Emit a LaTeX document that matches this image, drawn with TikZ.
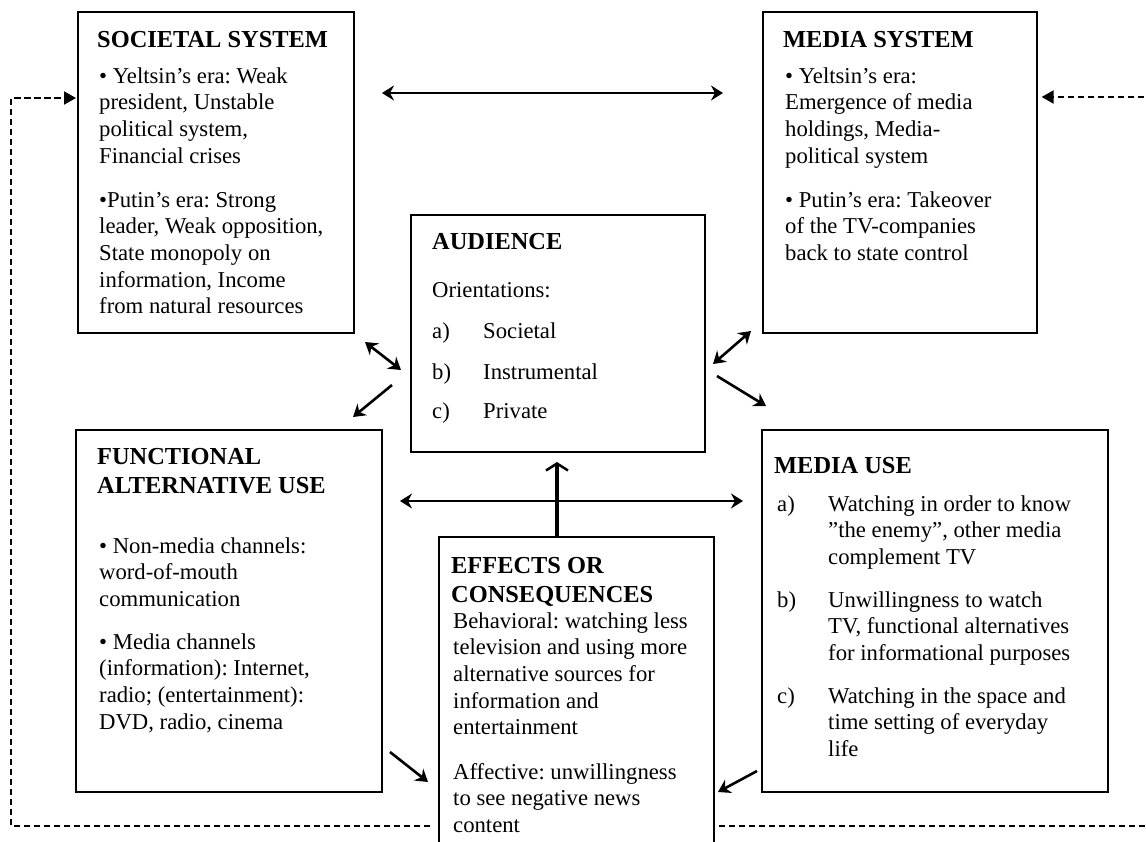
\documentclass[tikz,border=0pt]{standalone}
\usepackage{fontspec}
\setmainfont{Liberation Serif}
\usetikzlibrary{arrows.meta,calc}
\frenchspacing
\newcommand\bodysize{\fontsize{22.7pt}{26.7pt}\selectfont}
\newcommand\headsize{\fontsize{24.4pt}{29pt}\selectfont\bfseries}
% left-aligned lines, separated by \cr, whose baseline is the first line's
\newcommand\stack[1]{\vtop{\halign{##\hfil\cr#1\crcr}}}
\begin{document}
\begin{tikzpicture}[x=1pt,y=-1pt,
  >={Stealth[length=12pt,width=15pt,inset=4pt]},
  panel/.style={draw=black, line width=1.6pt, inner sep=0pt, anchor=north west},
  body/.style={anchor=base west, inner sep=0pt, font=\bodysize},
  head/.style={anchor=base west, inner sep=0pt, font=\headsize},
  twoway/.style={line width=2.6pt, <->},
  oneway/.style={line width=2.6pt, ->},
  rise/.style={line width=4pt, -{Straight Barb[length=7pt,width=22pt,line width=2.5pt]}},
  feedback/.style={line width=2pt, dash pattern=on 6.5pt off 3.5pt,
    -{Triangle[length=12pt,width=13pt]}}]
\useasboundingbox (0,0) rectangle (1146,841);
\clip (0,0) rectangle (1146,841);

% boxes
\node[panel, minimum width=276pt, minimum height=321pt] (soc) at (77,11) {};
\node[panel, minimum width=274pt, minimum height=321pt] (msys) at (762,11) {};
\node[panel, minimum width=294pt, minimum height=237pt] (aud) at (410,214) {};
\node[panel, minimum width=306pt, minimum height=362pt] (fau) at (75,429) {};
\node[panel, minimum width=346pt, minimum height=362pt] (muse) at (761,429) {};
\node[panel, minimum width=275pt, minimum height=340pt] (eff) at (438,536) {};

% societal system
\node[head] (soc-h) at (97,47) {SOCIETAL SYSTEM};
\node[body] (soc-a) at (99,83) {\stack{• Yeltsin’s era: Weak\cr president, Unstable\cr political system,\cr Financial crises}};
\node[body] (soc-b) at (99,207) {\stack{•Putin’s era: Strong\cr leader, Weak opposition,\cr State monopoly on\cr information, Income\cr from natural resources}};

% media system
\node[head] (ms-h) at (783,47) {MEDIA SYSTEM};
\node[body] (ms-a) at (785,83) {\stack{• Yeltsin’s era:\cr Emergence of media\cr holdings, Media-\cr political system}};
\node[body] (ms-b) at (785,207) {\stack{• Putin’s era: Takeover\cr of the TV-companies\cr back to state control}};

% audience
\node[head] (aud-h) at (432,249) {AUDIENCE};
\node[body] (aud-o) at (432,297) {Orientations:};
\node[body] (aud-la) at (432,338) {a)};
\node[body] (aud-a) at (483,338) {Societal};
\node[body] (aud-lb) at (432,379) {b)};
\node[body] (aud-b) at (483,379) {Instrumental};
\node[body] (aud-lc) at (432,418) {c)};
\node[body] (aud-c) at (483,418) {Private};

% functional alternative use
\node[head] (fau-h) at (97,464) {\stack{FUNCTIONAL\cr ALTERNATIVE USE}};
\node[body] (fau-a) at (99,553) {\stack{• Non-media channels:\cr word-of-mouth\cr communication}};
\node[body] (fau-b) at (99,649) {\stack{• Media channels\cr (information): Internet,\cr radio; (entertainment):\cr DVD, radio, cinema}};

% media use
\node[head] (mu-h) at (774,473) {MEDIA USE};
\node[body] (mu-la) at (777,511) {a)};
\node[body] (mu-a) at (828,511) {\stack{Watching in order to know\cr ”the enemy”, other media\cr complement TV}};
\node[body] (mu-lb) at (777,607) {b)};
\node[body] (mu-b) at (828,607) {\stack{Unwillingness to watch\cr TV, functional alternatives\cr for informational purposes}};
\node[body] (mu-lc) at (777,703) {c)};
\node[body] (mu-c) at (828,703) {\stack{Watching in the space and\cr time setting of everyday\cr life}};

% effects
\node[head] (eff-h) at (451,573) {\stack{EFFECTS OR\cr CONSEQUENCES}};
\node[body] (eff-a) at (453,628) {\stack{Behavioral: watching less\cr television and using more\cr alternative sources for\cr information and\cr entertainment}};
\node[body] (eff-b) at (453,779) {\stack{Affective: unwillingness\cr to see negative news\cr content}};

% arrow end points
\coordinate (top-l) at (382,93);
\coordinate (top-r) at (723,93);
\coordinate (sa-1) at (365,342);
\coordinate (sa-2) at (401,370);
\coordinate (af-1) at (392,385);
\coordinate (af-2) at (353,417);
\coordinate (am-1) at (713,364);
\coordinate (am-2) at (751,331);
\coordinate (au-1) at (717,376);
\coordinate (au-2) at (766,406);
\coordinate (mid-l) at (400,501);
\coordinate (mid-r) at (743,501);
\coordinate (up-top) at (557,462);
\coordinate (fe-1) at (390,752);
\coordinate (fe-2) at (428,782);
\coordinate (me-1) at (757,771);
\coordinate (me-2) at (718,792);
\coordinate (fbLB) at (11,826);
\coordinate (fbLT) at (11,98);
\coordinate (fbRB) at (1152,826);
\coordinate (fbRT) at (1152,97);

% connectors
\draw[twoway] (top-l) -- (top-r);
\draw[twoway] (sa-1) -- (sa-2);
\draw[oneway] (af-1) -- (af-2);
\draw[twoway] (am-1) -- (am-2);
\draw[oneway] (au-1) -- (au-2);
\draw[twoway] (mid-l) -- (mid-r);
\draw[rise] (up-top |- eff.north) -- (up-top);
\draw[oneway] (fe-1) -- (fe-2);
\draw[oneway] (me-1) -- (me-2);

% feedback loops
\draw[feedback, shorten <=8pt] (eff.west |- fbLB) -- (fbLB) -- (fbLT) -- ([xshift=-1pt]soc.west |- fbLT);
\draw[feedback, shorten <=4pt] (eff.east |- fbRB) -- (fbRB) -- (fbRT) -- ([xshift=4pt]msys.east |- fbRT);
\end{tikzpicture}
\end{document}
